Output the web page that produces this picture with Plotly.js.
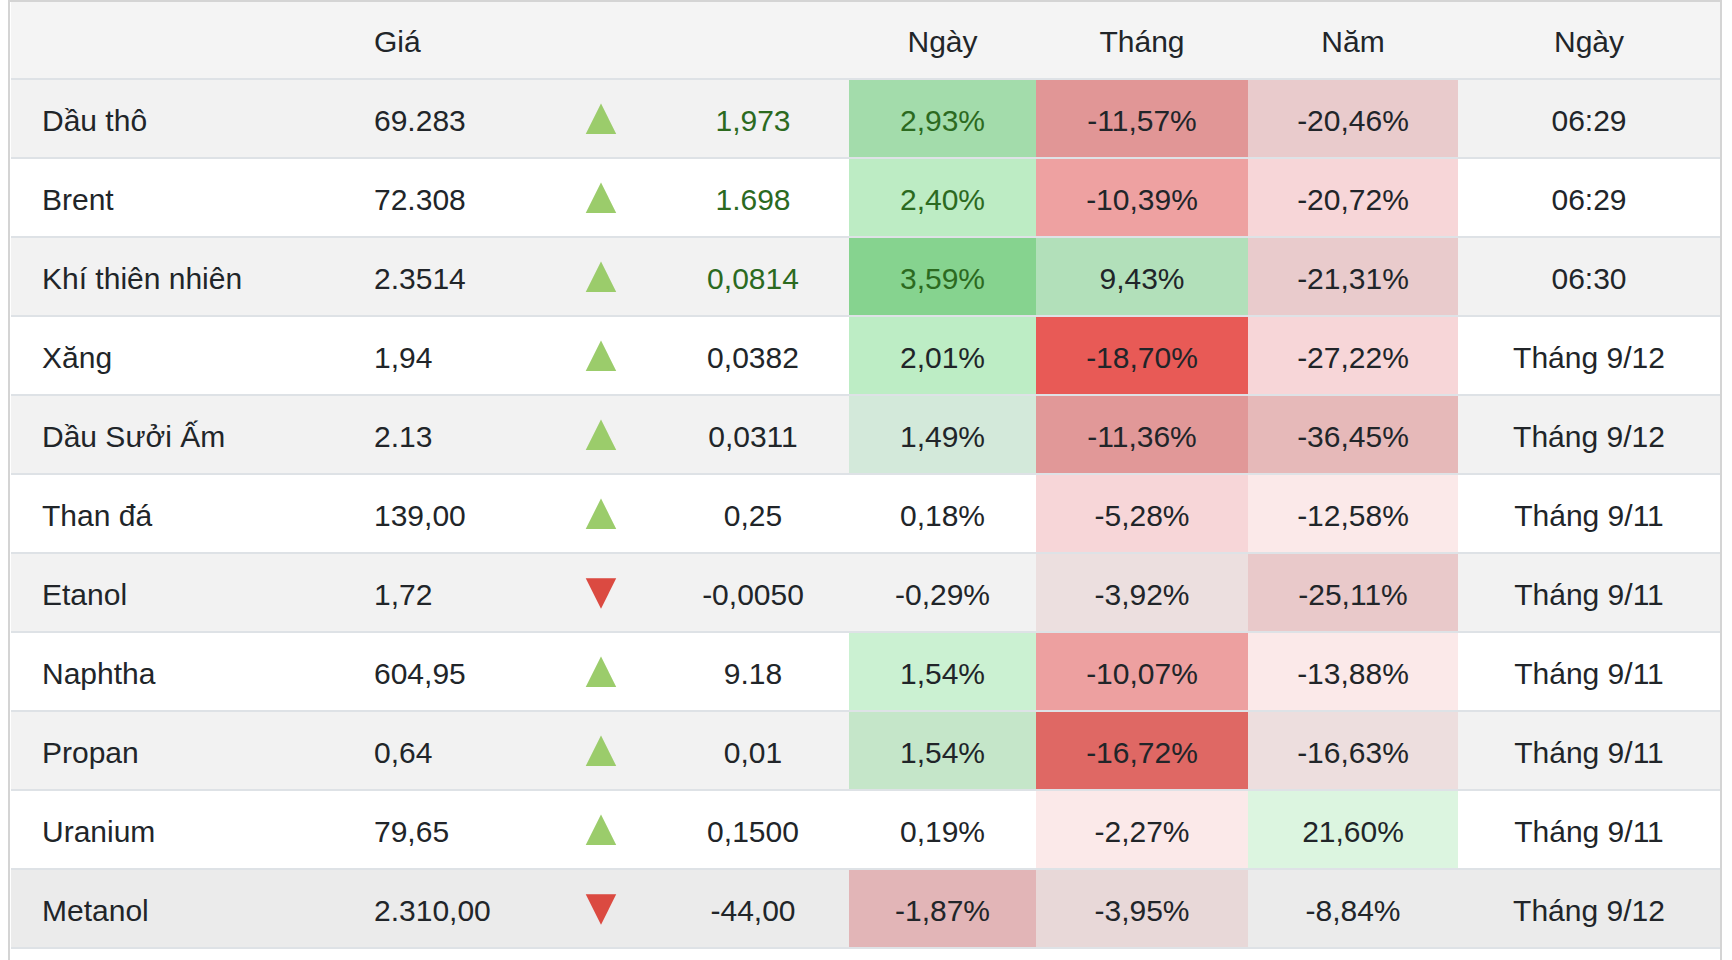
<!DOCTYPE html>
<html><head><meta charset="utf-8">
<script src="https://cdn.plot.ly/plotly-3.0.1.min.js"></script>
<style>html,body{margin:0;padding:0;background:#fff;overflow:hidden}</style>
</head><body><div id="chart" style="width:1732px;height:960px"></div>
<script>
// ---- data ----
const headers = ["", "", "Giá", "", "", "Ngày", "Tháng", "Năm", "Ngày"];
const names = ["Dầu thô","Brent","Khí thiên nhiên","Xăng","Dầu Sưởi Ấm","Than đá","Etanol","Naphtha","Propan","Uranium","Metanol"];
const prices = ["69.283","72.308","2.3514","1,94","2.13","139,00","1,72","604,95","0,64","79,65","2.310,00"];
const directions = ["up","up","up","up","up","up","down","up","up","up","down"];
const changes = ["1,973","1.698","0,0814","0,0382","0,0311","0,25","-0,0050","9.18","0,01","0,1500","-44,00"];
const dayPct = ["2,93%","2,40%","3,59%","2,01%","1,49%","0,18%","-0,29%","1,54%","1,54%","0,19%","-1,87%"];
const monthPct = ["-11,57%","-10,39%","9,43%","-18,70%","-11,36%","-5,28%","-3,92%","-10,07%","-16,72%","-2,27%","-3,95%"];
const yearPct = ["-20,46%","-20,72%","-21,31%","-27,22%","-36,45%","-12,58%","-25,11%","-13,88%","-16,63%","21,60%","-8,84%"];
const times = ["06:29","06:29","06:30","Tháng 9/12","Tháng 9/12","Tháng 9/11","Tháng 9/11","Tháng 9/11","Tháng 9/11","Tháng 9/11","Tháng 9/12"];
const greenText = [true,true,true,false,false,false,false,false,false,false,false];

// ---- heatmap colours of the % cells (null = row background) ----
const dayColors = ["#a3dcab","#bdecc4","#86d38f","#bdedc5","#d3e9da",null,null,"#cbf1d2","#c5e6c9",null,"#e2b5b7"];
const monthColors = ["#e19696","#eea1a1","#b2e0ba","#e85a56","#e19898","#f7d6d8","#ecdfdf","#eda0a0","#df6864","#fbe9e9","#e8d8d8"];
const yearColors = ["#e9cbcc","#f7d6d8","#e9cbcc","#f7d6d8","#e6b9b9","#fbe9e9","#e9c9ca","#fbe9e9","#eddede","#dcf5e0",null];

// ---- style ----
const W = 1732, H = 960;
const FONT = "Liberation Sans, Arial, sans-serif";
const FS = 30;          // visible text size
const SP = 20;          // spacer line size (vertical centering of body text)
const SP_HEAD = 19;     // spacer line size for header
const ARROW_FS = 52;
const TOP = 2, HEAD_H = 77, ROW_H = 79;
const X0 = 11, X1 = 1720;
const TXT = "#212529", GREEN_TXT = "#2c6a1f", UP = "#9bcc6b", DOWN = "#db4a41";
const NB = "\u00A0";

const wrap = (t, size) => t === "" ? "" : `${NB}<br><span style="font-size:${size || FS}px">${t}</span>`;
const rowFill = names.map((_, i) => i === names.length - 1 ? "#ebebeb" : (i % 2 === 0 ? "#f2f2f2" : "#ffffff"));
const withBg = arr => arr.map((c, i) => c || rowFill[i]);
const arrows = directions.map(d => wrap(d === "up" ? "▲" : "▼", ARROW_FS));

const n = names.length;
const dark = names.map(() => TXT);
const greenish = greenText.map(g => g ? GREEN_TXT : TXT);

const trace = {
  type: "table",
  domain: {x: [X0 / W, X1 / W], y: [0, 1 - TOP / H]},
  columnwidth: [23, 332, 179, 112, 192, 187, 212, 210, 262],
  header: {
    values: headers.map(h => wrap(h)),
    align: ["left","left","left","center","center","center","center","center","center"],
    height: HEAD_H,
    fill: {color: "#f4f4f4"},
    line: {width: 0, color: "rgba(0,0,0,0)"},
    font: {family: FONT, size: SP_HEAD, color: TXT}
  },
  cells: {
    values: [names.map(() => ""), names.map(t => wrap(t)), prices.map(t => wrap(t)), arrows,
             changes.map(t => wrap(t)), dayPct.map(t => wrap(t)), monthPct.map(t => wrap(t)),
             yearPct.map(t => wrap(t)), times.map(t => wrap(t))],
    align: ["left","left","left","center","center","center","center","center","center"],
    height: ROW_H,
    fill: {color: [rowFill, rowFill, rowFill, rowFill, rowFill, withBg(dayColors), withBg(monthColors), withBg(yearColors), rowFill]},
    line: {width: 0, color: "rgba(0,0,0,0)"},
    font: {family: FONT, size: SP,
           color: [dark, dark, dark, directions.map(d => d === "up" ? UP : DOWN), greenish, greenish, dark, dark, dark]}
  }
};

// separator lines and outer frame
const shapes = [];
const py = p => 1 - p / H;
for (let i = 0; i <= n; i++) {
  const y = TOP + HEAD_H + i * ROW_H;
  shapes.push({type: "line", xref: "paper", yref: "paper", x0: X0 / W, x1: X1 / W, y0: py(y), y1: py(y),
               line: {color: "#dee2e6", width: 2}, layer: "above"});
}
const frame = {color: "#d4d4d4", width: 2};
shapes.push({type: "line", xref: "paper", yref: "paper", x0: (X0 - 2) / W, x1: (X1 + 1) / W, y0: py(1), y1: py(1), line: frame, layer: "above"});
shapes.push({type: "line", xref: "paper", yref: "paper", x0: (X0 - 2) / W, x1: (X0 - 2) / W, y0: py(0), y1: 0, line: frame, layer: "above"});
shapes.push({type: "line", xref: "paper", yref: "paper", x0: (X1 + 1) / W, x1: (X1 + 1) / W, y0: py(0), y1: 0, line: frame, layer: "above"});

Plotly.newPlot("chart", [trace], {
  width: W, height: H,
  margin: {l: 0, r: 0, t: 0, b: 0},
  paper_bgcolor: "#ffffff",
  shapes: shapes,
  showlegend: false
}, {staticPlot: true, displayModeBar: false});
</script>
</body></html>
